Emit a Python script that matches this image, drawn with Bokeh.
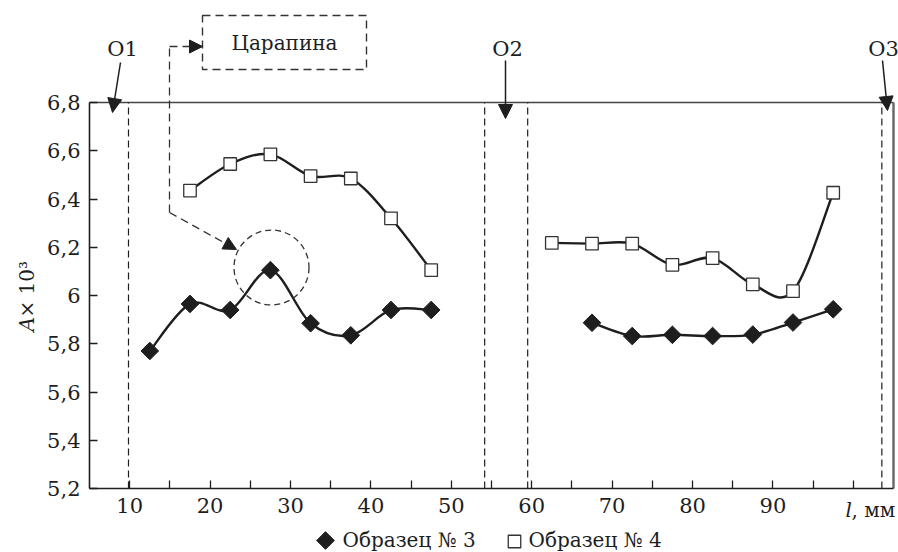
import numpy as np
from bokeh.plotting import figure
from bokeh.models import FixedTicker, Label, Arrow, NormalHead
from bokeh.embed import file_html
from bokeh.resources import INLINE

# ---------------- data ----------------
s3_left_x = [12.5, 17.5, 22.5, 27.5, 32.5, 37.5, 42.5, 47.5]
s3_left_y = [5.77, 5.965, 5.94, 6.105, 5.885, 5.835, 5.94, 5.94]
s4_left_x = [17.5, 22.5, 27.5, 32.5, 37.5, 42.5, 47.5]
s4_left_y = [6.435, 6.545, 6.585, 6.495, 6.485, 6.32, 6.105]
s3_right_x = [67.5, 72.5, 77.5, 82.5, 87.5, 92.5, 97.5]
s3_right_y = [5.887, 5.832, 5.837, 5.832, 5.838, 5.888, 5.943]
s4_right_x = [62.5, 67.5, 72.5, 77.5, 82.5, 87.5, 92.5, 97.5]
s4_right_y = [6.218, 6.215, 6.215, 6.127, 6.155, 6.046, 6.018, 6.426]

x_ticks = [10, 15, 20, 25, 30, 35, 40, 45, 50, 55, 60, 65, 70, 75, 80, 85, 90, 95, 100]
x_tick_labels = ["10", "", "20", "", "30", "", "40", "", "50", "", "60", "", "70", "", "80", "", "90", "", ""]
y_ticks = [5.2, 5.4, 5.6, 5.8, 6.0, 6.2, 6.4, 6.6, 6.8]
y_tick_labels = ["5,2", "5,4", "5,6", "5,8", "6", "6,2", "6,4", "6,6", "6,8"]

zone_bounds = [9.85, 54.15, 59.5, 103.55]   # dashed zone borders, mm
zone_names = ["O1", "O2", "O3"]
legend_names = ["Образец № 3", "Образец № 4"]
note_text = "Царапина"

# axis extents (data) and canvas geometry
x_lo, x_hi = 5, 105
y_lo, y_hi = 5.2, 6.8
W, H = 898, 552
AX_LEFT, AX_RIGHT, AX_TOP, AX_BOTTOM = 89, 893, 102, 488   # pixel positions of the axis box

kx = (AX_RIGHT - AX_LEFT) / (x_hi - x_lo)
ky = (AX_BOTTOM - AX_TOP) / (y_hi - y_lo)
x_view = (x_lo - AX_LEFT / kx, x_lo + (W - AX_LEFT) / kx)
y_view = (y_hi - (H - AX_TOP) / ky, y_hi + AX_TOP / ky)


def px_x(px):
    return x_lo + (px - AX_LEFT) / kx


def px_y(py):
    return y_hi - (py - AX_TOP) / ky


FONT = "DejaVu Serif"
FS = "20px"
FS_TICK = "21px"
INK = "#1e1e1e"

p = figure(width=W, height=H, x_range=x_view, y_range=y_view,
           output_backend="svg", toolbar_location=None,
           min_border_left=0, min_border_right=0, min_border_top=0, min_border_bottom=0)
p.outline_line_color = None
p.xgrid.visible = False
p.ygrid.visible = False
p.background_fill_color = "white"
p.border_fill_color = "white"

# axes
for ax in (p.xaxis[0], p.yaxis[0]):
    ax.axis_line_color = INK
    ax.axis_line_width = 1.6
    ax.major_tick_line_color = INK
    ax.major_tick_line_width = 1.3
    ax.major_tick_in = 8
    ax.major_tick_out = 0
    ax.minor_tick_line_color = None
    ax.major_label_text_font = FONT
    ax.major_label_text_font_size = FS_TICK
    ax.major_label_text_color = INK
    ax.major_label_standoff = 9

p.xaxis.ticker = FixedTicker(ticks=x_ticks)
p.xaxis.major_label_overrides = {t: l for t, l in zip(x_ticks, x_tick_labels)}
p.xaxis.bounds = (x_lo, x_hi)
p.xaxis.fixed_location = y_lo

p.yaxis.ticker = FixedTicker(ticks=y_ticks)
p.yaxis.major_label_overrides = {t: l for t, l in zip(y_ticks, y_tick_labels)}
p.yaxis.bounds = (y_lo, y_hi)
p.yaxis.fixed_location = x_lo

# frame top and right lines
p.segment(x0=[x_lo], y0=[y_hi], x1=[x_hi], y1=[y_hi], line_color="#444444", line_width=1.4)
p.segment(x0=[x_hi], y0=[y_lo], x1=[x_hi], y1=[y_hi], line_color="#666666", line_width=2.4)

# zone borders
p.segment(x0=zone_bounds, y0=[y_lo] * len(zone_bounds), x1=zone_bounds, y1=[y_hi] * len(zone_bounds),
          line_color=INK, line_width=1.2, line_dash="7 4")


def smooth(xs, ys):
    x = np.asarray(xs, float)
    y = np.asarray(ys, float)
    n = len(x)
    xp = np.concatenate([[x[0]], x, [x[-1]]])
    yp = np.concatenate([[y[0]], y, [y[-1]]])
    cx0 = xp[1:n] + (xp[2:n + 1] - xp[0:n - 1]) / 6
    cy0 = yp[1:n] + (yp[2:n + 1] - yp[0:n - 1]) / 6
    cx1 = xp[2:n + 1] - (xp[3:n + 2] - xp[1:n]) / 6
    cy1 = yp[2:n + 1] - (yp[3:n + 2] - yp[1:n]) / 6
    return dict(x0=x[:-1], y0=y[:-1], x1=x[1:], y1=y[1:], cx0=cx0, cy0=cy0, cx1=cx1, cy1=cy1)


for xs, ys in [(s3_left_x, s3_left_y), (s4_left_x, s4_left_y), (s3_right_x, s3_right_y), (s4_right_x, s4_right_y)]:
    p.bezier(**smooth(xs, ys), line_color=INK, line_width=2.4)

DIAMOND = dict(marker="square", angle=np.pi / 4, size=12.5, fill_color=INK, line_color=INK, line_width=1)
SQUARE = dict(marker="square", size=12.5, fill_color="white", line_color="#333333", line_width=1.3)
for xs, ys in [(s3_left_x, s3_left_y), (s3_right_x, s3_right_y)]:
    p.scatter(xs, ys, **DIAMOND)
for xs, ys in [(s4_left_x, s4_left_y), (s4_right_x, s4_right_y)]:
    p.scatter(xs, ys, **SQUARE)

# zone labels and arrows (pixel placement)
zone_label_px = [(122, 48), (507, 48), (883, 48)]
zone_arrow_px = [((120, 62), (112, 112)), ((505, 60), (505, 118)), ((882, 60), (887, 110))]
for name, (lx, ly), ((sx, sy), (ex, ey)) in zip(zone_names, zone_label_px, zone_arrow_px):
    p.add_layout(Label(x=px_x(lx), y=px_y(ly), text=name, text_font=FONT, text_font_size=FS_TICK,
                       text_color=INK, text_align="center", text_baseline="middle"))
    p.add_layout(Arrow(x_start=px_x(sx), y_start=px_y(sy), x_end=px_x(ex), y_end=px_y(ey),
                       line_color=INK, line_width=1.5,
                       end=NormalHead(size=14, fill_color=INK, line_color=INK)))

# scratch note
box_l, box_r, box_t, box_b = px_x(202), px_x(366), px_y(15), px_y(69)
p.quad(left=[box_l], right=[box_r], bottom=[box_b], top=[box_t], fill_color=None,
       line_color="#333333", line_width=1.4, line_dash="8 5")
p.add_layout(Label(x=(box_l + box_r) / 2, y=px_y(42), text=note_text, text_font=FONT, text_font_size=FS,
                   text_color=INK, text_align="center", text_baseline="middle"))
lead_x, lead_yb, lead_yt = px_x(169), px_y(212), px_y(46)
p.line([lead_x, lead_x], [lead_yb, lead_yt], line_color="#333333", line_width=1.3, line_dash="8 5")
p.add_layout(Arrow(x_start=lead_x, y_start=lead_yt, x_end=box_l, y_end=lead_yt, line_color="#333333",
                   line_width=1.3, line_dash="8 5",
                   end=NormalHead(size=13, fill_color=INK, line_color=INK)))
p.add_layout(Arrow(x_start=lead_x, y_start=lead_yb, x_end=px_x(236), y_end=px_y(249), line_color="#333333",
                   line_width=1.3, line_dash="8 5",
                   end=NormalHead(size=13, fill_color=INK, line_color=INK)))
p.scatter([px_x(271)], [px_y(267)], marker="circle", size=75, fill_color=None, line_color="#333333",
          line_width=1.3, line_dash="6 4")

# axis titles
p.add_layout(Label(x=px_x(26), y=px_y(331), text="A", angle=np.pi / 2, text_font=FONT,
                   text_font_size=FS, text_font_style="italic", text_color=INK,
                   text_align="left", text_baseline="middle"))
p.add_layout(Label(x=px_x(26), y=px_y(317), text=" × 10³", angle=np.pi / 2, text_font=FONT,
                   text_font_size=FS, text_color=INK, text_align="left", text_baseline="middle"))
p.add_layout(Label(x=px_x(845), y=px_y(509), text="l", text_font=FONT, text_font_size=FS,
                   text_font_style="italic", text_color=INK, text_align="left", text_baseline="middle"))
p.add_layout(Label(x=px_x(851), y=px_y(509), text=", мм", text_font=FONT, text_font_size=FS,
                   text_color=INK, text_align="left", text_baseline="middle"))

# legend (keys + labels)
p.scatter([px_x(325)], [px_y(540)], **DIAMOND)
p.scatter([px_x(514)], [px_y(541)], **SQUARE)
for name, lx in zip(legend_names, [342, 528]):
    p.add_layout(Label(x=px_x(lx), y=px_y(539), text=name, text_font=FONT, text_font_size=FS,
                       text_color=INK, text_align="left", text_baseline="middle"))

open("out.html", "w").write(file_html(p, INLINE))
